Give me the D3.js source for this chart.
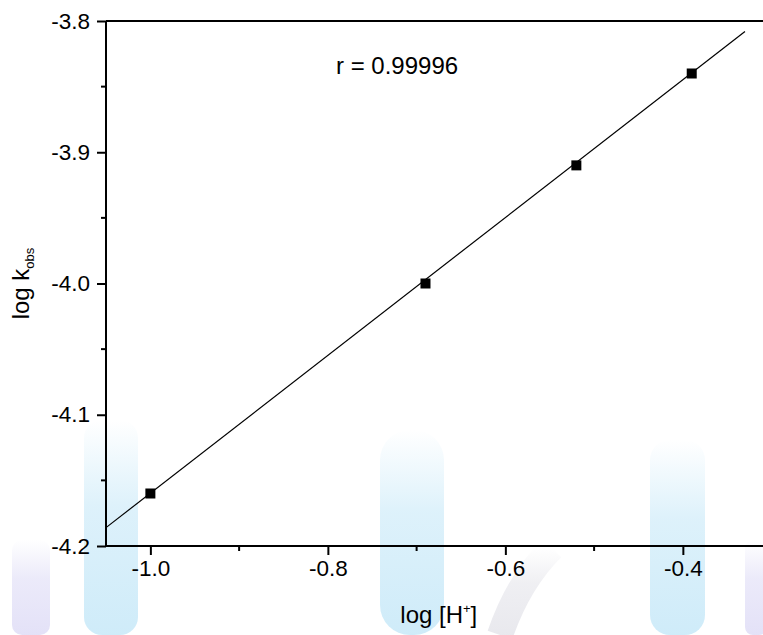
<!DOCTYPE html>
<html>
  <head>
    <meta charset="UTF-8">
    <title>log kobs vs log [H+]</title>
    <script src="https://d3js.org/d3.v7.min.js"></script>
    <style>
      body { margin: 0; background: #fff; }
      svg.chart {
        font-family: "Liberation Sans", Arial, sans-serif;
        background: #fff;
      }
      .tick-label { font-size: 22.5px; fill: #000; }
      .axis-title { font-size: 24px; fill: #000; }
    </style>
  </head>
  <body>
    <div id="chart"></div>
    <script>
      // data
      const logH = [-1.0, -0.69, -0.52, -0.39];
      const logK = [-4.16, -4.0, -3.91, -3.84];
      // fitted line end points
      const fitX = [-1.05, -0.33];
      const fitY = [-4.186, -3.808];
      const xTicks = [-1.0, -0.8, -0.6, -0.4];
      const xMinor = [-0.9, -0.7, -0.5, -0.3];
      const yTicks = [-3.8, -3.9, -4.0, -4.1, -4.2];
      const yMinor = [-3.85, -3.95, -4.05, -4.15];
      const rLabel = "r = 0.99996";

      const width = 763, height = 635;
      const margin = { top: 21, left: 106, bottom: 89 };
      const plotRight = 771.6;
      const plotBottom = height - margin.bottom; // 546

      const svg = d3.select("#chart")
        .append("svg")
        .attr("class", "chart")
        .attr("width", width)
        .attr("height", height);

      const x = d3.scaleLinear().domain([-1.05, -0.30]).range([margin.left, plotRight]);
      const y = d3.scaleLinear().domain([-4.2, -3.8]).range([plotBottom, margin.top]);
      const fmt = d => d.toFixed(1);

      // faint watermark in the background, fading in towards the bottom
      const defs = svg.append("defs");
      function fade(id, col) {
        const g = defs.append("linearGradient").attr("id", id)
          .attr("x1", 0).attr("y1", 0).attr("x2", 0).attr("y2", 1);
        g.append("stop").attr("offset", "0%").attr("stop-color", col).attr("stop-opacity", 0);
        g.append("stop").attr("offset", "40%").attr("stop-color", col).attr("stop-opacity", 0.35);
        g.append("stop").attr("offset", "100%").attr("stop-color", col).attr("stop-opacity", 0.5);
      }
      fade("wmBlue", "#9fd8f3");
      fade("wmLilac", "#c8c4f0");
      fade("wmGrey", "#d2d2dc");
      const wm = svg.append("g");
      wm.append("rect").attr("x", 12).attr("y", 540).attr("width", 38).attr("height", 95).attr("rx", 10).attr("fill", "url(#wmLilac)");
      wm.append("rect").attr("x", 84).attr("y", 420).attr("width", 54).attr("height", 215).attr("rx", 18).attr("fill", "url(#wmBlue)");
      wm.append("rect").attr("x", 380).attr("y", 430).attr("width", 64).attr("height", 205).attr("rx", 30).attr("fill", "url(#wmBlue)");
      wm.append("path").attr("d", "M500,635 C512,600 530,570 552,548").attr("stroke", "url(#wmGrey)").attr("stroke-width", 26).attr("fill", "none");
      wm.append("rect").attr("x", 650).attr("y", 440).attr("width", 55).attr("height", 195).attr("rx", 20).attr("fill", "url(#wmBlue)");
      wm.append("rect").attr("x", 745).attr("y", 540).attr("width", 22).attr("height", 95).attr("rx", 8).attr("fill", "url(#wmLilac)");

      // fit line
      svg.append("line")
        .attr("x1", x(fitX[0])).attr("y1", y(fitY[0]))
        .attr("x2", x(fitX[1])).attr("y2", y(fitY[1]))
        .attr("stroke", "#000")
        .attr("stroke-width", 1.2);

      // points
      const pts = d3.zip(logH, logK);
      svg.selectAll("rect.pt")
        .data(pts)
        .enter()
        .append("rect")
        .attr("class", "pt")
        .attr("x", d => x(d[0]) - 5)
        .attr("y", d => y(d[1]) - 5)
        .attr("width", 10)
        .attr("height", 10)
        .attr("fill", "#000");

      // bottom axis
      const xAxis = svg.append("g")
        .attr("transform", `translate(0,${plotBottom})`)
        .call(d3.axisBottom(x).tickValues(xTicks).tickSize(9).tickFormat(fmt));
      xAxis.selectAll("text").attr("class", "tick-label").attr("y", 14).attr("dy", "0.71em").attr("font-family", null).attr("font-size", null);
      xAxis.append("g").selectAll("line")
        .data(xMinor).enter().append("line")
        .attr("x1", d => x(d)).attr("x2", d => x(d))
        .attr("y1", 0).attr("y2", 5)
        .attr("stroke", "#000").attr("stroke-width", 2);

      // left axis
      const yAxis = svg.append("g")
        .attr("transform", `translate(${margin.left},0)`)
        .call(d3.axisLeft(y).tickValues(yTicks).tickSize(9).tickFormat(fmt));
      yAxis.selectAll("text").attr("class", "tick-label").attr("x", -16).attr("font-family", null).attr("font-size", null);
      yAxis.append("g").selectAll("line")
        .data(yMinor).enter().append("line")
        .attr("y1", d => y(d)).attr("y2", d => y(d))
        .attr("x1", 0).attr("x2", -5)
        .attr("stroke", "#000").attr("stroke-width", 2);

      svg.selectAll(".domain").attr("stroke-width", 2);
      svg.selectAll(".tick line").attr("stroke-width", 2);
      xAxis.select(".domain").attr("d", `M${margin.left},0H${plotRight}`);
      yAxis.select(".domain").attr("d", `M0,${margin.top}V${plotBottom}`);

      // top frame line
      svg.append("line")
        .attr("x1", margin.left).attr("x2", plotRight)
        .attr("y1", margin.top).attr("y2", margin.top)
        .attr("stroke", "#000").attr("stroke-width", 2);

      // r label
      svg.append("text")
        .attr("class", "axis-title")
        .attr("x", 336)
        .attr("y", y(-3.8) + 53)
        .text(rLabel);

      // x axis title
      const xt = svg.append("text")
        .attr("class", "axis-title")
        .attr("x", (margin.left + plotRight) / 2)
        .attr("y", 623)
        .attr("text-anchor", "middle");
      xt.append("tspan").text("log [H");
      xt.append("tspan").attr("font-size", 13).attr("dy", -10).text("+");
      xt.append("tspan").attr("dy", 10).text("]");

      // y axis title
      const yt = svg.append("text")
        .attr("class", "axis-title")
        .attr("transform", `translate(29,${(margin.top + plotBottom) / 2}) rotate(-90)`)
        .attr("text-anchor", "middle");
      yt.append("tspan").text("log k");
      yt.append("tspan").attr("font-size", 13).attr("dy", 5).text("obs");
    </script>
  </body>
</html>
